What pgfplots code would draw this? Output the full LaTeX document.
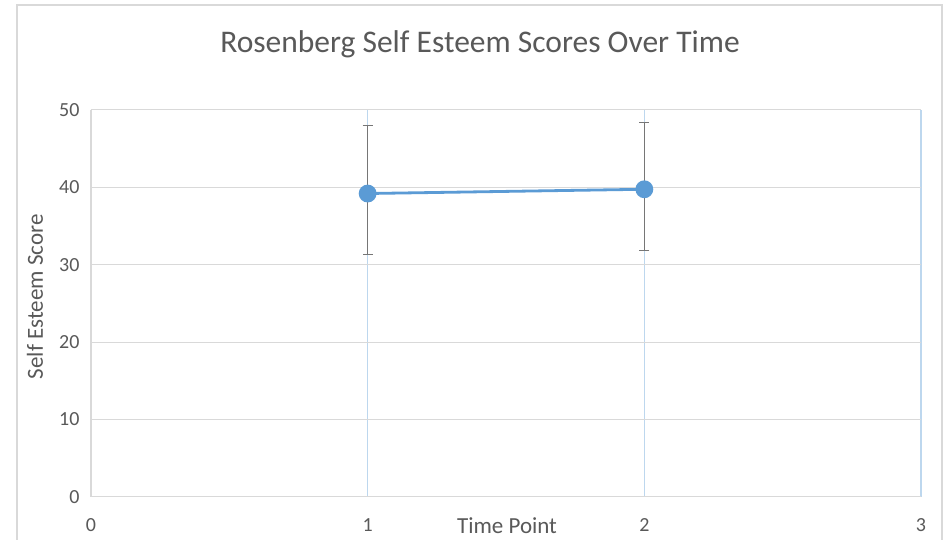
\documentclass[border=0pt]{standalone}
\usepackage{pgfplots}
\pgfplotsset{compat=1.18}
\usepackage{fontspec}
\setmainfont{Carlito}
\definecolor{txt}{HTML}{595959}
\definecolor{grd}{HTML}{D9D9D9}
\definecolor{ser}{HTML}{5B9BD5}
\definecolor{vgrid}{HTML}{BDD7EE}
\definecolor{ebar}{HTML}{767676}
\begin{document}
\begin{tikzpicture}[x=1pt,y=1pt]
\clip (-91,-43.3) rectangle (860,496.7);
\fill[white] (-91,-43.3) rectangle (860,496.7);
\draw[grd, line width=1.2pt] (-74,-60) rectangle (851,491.7);
\begin{axis}[
  at={(0,0)}, anchor=south west,
  scale only axis, width=830pt, height=386.7pt,
  xmin=0, xmax=3, ymin=0, ymax=50,
  xtick={0,1,2,3}, ytick={0,10,20,30,40,50},
  major tick length=0pt,
  axis line style={draw=none},
  xmajorgrids, ymajorgrids,
  x grid style={vgrid, line width=1.4pt},
  y grid style={grd, line width=1pt},
  /pgf/number format/assume math mode=true,
  tick label style={font=\fontsize{20}{24}\selectfont, text=txt},
  xticklabel style={yshift=-18pt},
  yticklabel style={xshift=-8pt},
  clip=false,
]
\draw[grd, line width=1.2pt] (axis cs:0,0) -- (axis cs:0,50);
\draw[grd, line width=1.2pt] (axis cs:0,0) -- (axis cs:3,0);
\addplot[draw=none, mark=none,
  error bars/.cd, y dir=both, y explicit,
  error bar style={ebar, line width=1.2pt},
  error mark options={rotate=90, mark size=5pt, ebar, line width=1.2pt}]
  table[x=x, y=y, y error plus=ep, y error minus=em] {
x y ep em
1 39.2 8.75 7.85
2 39.75 8.6 7.95
};
\addplot[ser, line width=2.8pt, mark=*, mark size=7.5pt, mark options={fill=ser, draw=none}]
  table[x=x, y=y] {
x y
1 39.2
2 39.75
};
\end{axis}
\node[text=txt, font=\fontsize{31.5}{36}\selectfont] at (389,452.7) {Rosenberg Self Esteem Scores Over Time};
\node[text=txt, font=\fontsize{23}{26}\selectfont, rotate=90] at (-56,200) {Self Esteem Score};
\node[text=txt, font=\fontsize{23}{26}\selectfont] at (416,-29.3) {Time Point};
\end{tikzpicture}
\end{document}
